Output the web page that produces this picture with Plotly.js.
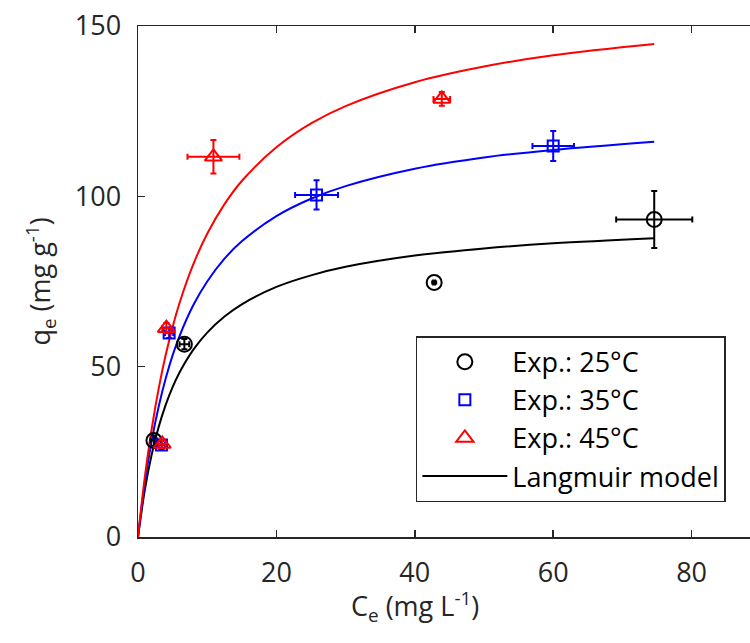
<!DOCTYPE html>
<html>
<head>
<meta charset="utf-8">
<script src="https://cdn.plot.ly/plotly-3.0.1.min.js"></script>
<style>html,body{margin:0;padding:0;background:#fff;}#chart{width:750px;height:643px;}</style>
</head>
<body>
<div id="chart"></div>
<script>
// Experimental data (Ce, qe) with error bars
const ce25 = [2.3, 6.7, 42.8, 74.6];
const qe25 = [28.3, 56.6, 74.7, 93.2];
const ce25Err = [0.5, 0.7, 0.15, 5.5];
const qe25Err = [1.5, 1.5, 0.3, 8.4];

const ce35 = [3.4, 4.5, 25.8, 60.0];
const qe35 = [27.0, 59.9, 100.4, 114.8];
const ce35Err = [0.5, 0.6, 3.1, 3.0];
const qe35Err = [1.2, 1.5, 4.3, 4.4];

const ce45 = [3.5, 4.1, 10.9, 43.9];
const qe45 = [27.3, 61.3, 111.6, 128.6];
const ce45Err = [0.5, 0.6, 3.75, 1.2];
const qe45Err = [1.2, 1.5, 4.9, 2.0];

// Langmuir model curves
const modelCe = [0, 1, 2, 3, 4, 5, 6, 8, 10, 12.5, 15, 20, 25, 30, 40, 50, 60, 74.6];
const model25 = [0, 14.0, 24.4, 32.4, 38.8, 44.0, 48.3, 55.0, 60.0, 64.7, 68.3, 73.4, 76.8, 79.3, 82.6, 84.7, 86.2, 87.7];
const model35 = [0, 16.1, 28.5, 38.4, 46.5, 53.3, 59.0, 68.1, 75.0, 81.7, 86.8, 94.2, 99.3, 103.0, 108.1, 111.4, 113.6, 116.0];
const model45 = [0, 17.8, 32.0, 43.7, 53.4, 61.6, 68.7, 80.1, 89.0, 97.7, 104.5, 114.4, 121.4, 126.5, 133.5, 138.1, 141.4, 144.7];

const xTicks = [0, 20, 40, 60, 80];
const yTicks = [0, 50, 100, 150];

const FONT = 'Open Sans, Noto Sans, sans-serif';
const AX = '#262626';

function curve(y, color, show, rank) {
  return {
    x: modelCe, y: y, mode: 'lines', type: 'scatter',
    line: {color: color, width: 2, shape: 'spline'},
    name: 'Langmuir model', showlegend: show, legendgroup: 'g' + rank, legendrank: rank,
    hoverinfo: 'skip'
  };
}
function pts(x, y, ex, ey, color, symbol, size, name, rank) {
  return {
    x: x, y: y, mode: 'markers', type: 'scatter', name: name,
    legendgroup: 'g' + rank, legendrank: rank,
    marker: {symbol: symbol, size: size, color: color, line: {color: color, width: 2}},
    error_x: {type: 'data', array: ex, visible: true, color: color, thickness: 2, width: 3},
    error_y: {type: 'data', array: ey, visible: true, color: color, thickness: 2, width: 3}
  };
}

const data = [
  curve(model25, '#000000', true, 4),
  curve(model35, '#0000FF', false, 5),
  curve(model45, '#FF0000', false, 6),
  pts(ce25, qe25, ce25Err, qe25Err, '#000000', 'circle-open', 15, 'Exp.: 25°C', 1),
  pts(ce35, qe35, ce35Err, qe35Err, '#0000FF', 'square-open', 11, 'Exp.: 35°C', 2),
  pts(ce45, qe45, ce45Err, qe45Err, '#FF0000', 'triangle-up-open', 15, 'Exp.: 45°C', 3)
];

const layout = {
  width: 750, height: 643,
  margin: {l: 138, r: 0, t: 26, b: 106, pad: 0},
  paper_bgcolor: '#ffffff', plot_bgcolor: '#ffffff',
  font: {family: FONT, size: 27, color: AX},
  showlegend: true,
  xaxis: {
    range: [0, 88.44], tickvals: xTicks, ticktext: xTicks.map(String),
    ticks: 'inside', ticklen: 7, tickwidth: 1.5, tickcolor: AX,
    showline: true, linecolor: AX, linewidth: 1.5, mirror: 'ticks',
    showgrid: false, zeroline: false,
    tickfont: {family: FONT, size: 27, color: AX}, ticklabelstandoff: 11
  },
  yaxis: {
    range: [0, 150], tickvals: yTicks, ticktext: yTicks.map(String),
    ticks: 'inside', ticklen: 7, tickwidth: 1.5, tickcolor: AX,
    showline: true, linecolor: AX, linewidth: 1.5, mirror: false,
    showgrid: false, zeroline: false,
    tickfont: {family: FONT, size: 27, color: AX}, ticklabelstandoff: 10
  },
  legend: {
    x: 0.454, y: 0.393, xanchor: 'left', yanchor: 'top',
    bgcolor: '#ffffff', bordercolor: AX, borderwidth: 1.5,
    font: {family: FONT, size: 27, color: '#000000'},
    itemwidth: 85, tracegroupgap: 10, traceorder: 'normal'
  },
  annotations: [
    {text: 'C<sub>e</sub> (mg L<sup>-1</sup>)', xref: 'x', yref: 'paper', x: 40, y: -0.09,
     xanchor: 'center', yanchor: 'top', showarrow: false, font: {family: FONT, size: 27, color: AX}},
    {text: 'q<sub>e</sub> (mg g<sup>-1</sup>)', xref: 'paper', yref: 'paper', x: -0.16, y: 0.5,
     xanchor: 'center', yanchor: 'middle', textangle: -90, showarrow: false, font: {family: FONT, size: 27, color: AX}}
  ]
};

Plotly.newPlot('chart', data, layout, {staticPlot: true, displayModeBar: false});
</script>
</body>
</html>
